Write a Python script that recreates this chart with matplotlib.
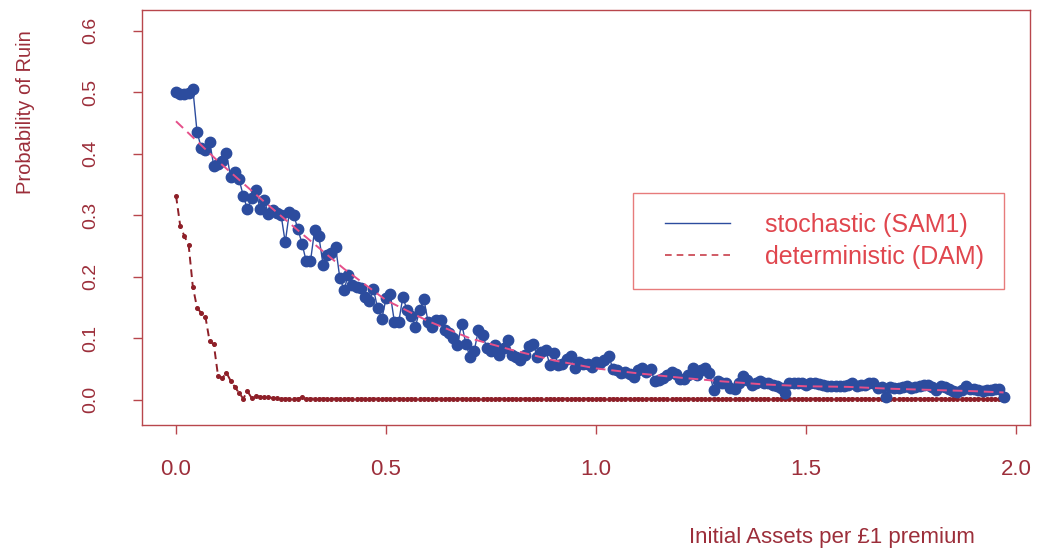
import numpy as np
import matplotlib
matplotlib.use("Agg")
import matplotlib.pyplot as plt
from matplotlib.lines import Line2D
from matplotlib.legend_handler import HandlerLine2D

# ruin probability vs initial assets, grid step 0.01 from 0.00 to 1.97
ASSET_STEP = 0.01

sam1 = [
    0.501, 0.498, 0.497, 0.499, 0.506, 0.436, 0.410, 0.407, 0.420, 0.380,
    0.383, 0.388, 0.401, 0.362, 0.371, 0.359, 0.332, 0.310, 0.328, 0.341,
    0.310, 0.325, 0.302, 0.309, 0.304, 0.301, 0.256, 0.306, 0.301, 0.278,
    0.254, 0.225, 0.225, 0.276, 0.266, 0.220, 0.236, 0.238, 0.248, 0.198,
    0.179, 0.203, 0.187, 0.184, 0.182, 0.168, 0.160, 0.180, 0.149, 0.132,
    0.165, 0.172, 0.126, 0.126, 0.167, 0.146, 0.136, 0.119, 0.146, 0.164,
    0.127, 0.119, 0.130, 0.130, 0.114, 0.108, 0.100, 0.089, 0.124, 0.091,
    0.069, 0.080, 0.114, 0.106, 0.084, 0.079, 0.089, 0.073, 0.084, 0.098,
    0.073, 0.070, 0.065, 0.073, 0.087, 0.091, 0.070, 0.078, 0.081, 0.057,
    0.076, 0.057, 0.059, 0.066, 0.072, 0.052, 0.061, 0.059, 0.059, 0.053,
    0.062, 0.060, 0.065, 0.072, 0.050, 0.048, 0.044, 0.046, 0.042, 0.037,
    0.049, 0.052, 0.046, 0.050, 0.030, 0.033, 0.035, 0.040, 0.046, 0.042,
    0.034, 0.034, 0.041, 0.052, 0.041, 0.048, 0.052, 0.043, 0.016, 0.030,
    0.027, 0.027, 0.019, 0.017, 0.028, 0.039, 0.033, 0.024, 0.028, 0.031,
    0.027, 0.027, 0.024, 0.022, 0.019, 0.011, 0.028, 0.028, 0.027, 0.028,
    0.024, 0.027, 0.027, 0.026, 0.024, 0.023, 0.022, 0.022, 0.022, 0.023,
    0.024, 0.027, 0.023, 0.024, 0.024, 0.027, 0.028, 0.019, 0.021, 0.005,
    0.021, 0.019, 0.019, 0.021, 0.022, 0.019, 0.020, 0.023, 0.024, 0.024,
    0.021, 0.016, 0.023, 0.020, 0.017, 0.015, 0.013, 0.016, 0.022, 0.017,
    0.017, 0.016, 0.015, 0.016, 0.016, 0.017, 0.017, 0.005,
]

dam = [
    0.332, 0.283, 0.266, 0.252, 0.184, 0.150, 0.141, 0.135, 0.095, 0.090,
    0.039, 0.035, 0.044, 0.031, 0.021, 0.011, 0.002, 0.014, 0.003, 0.006,
    0.005, 0.004, 0.004, 0.003, 0.003, 0.002, 0.002, 0.002, 0.002, 0.002,
    0.004, 0.002, 0.002, 0.002, 0.002, 0.002, 0.002, 0.002, 0.002, 0.002,
    0.002, 0.002, 0.002, 0.002, 0.002, 0.002, 0.002, 0.002, 0.002, 0.002,
    0.002, 0.002, 0.002, 0.002, 0.002, 0.002, 0.002, 0.002, 0.002, 0.002,
    0.002, 0.002, 0.002, 0.002, 0.002, 0.002, 0.002, 0.002, 0.002, 0.002,
    0.002, 0.002, 0.002, 0.002, 0.002, 0.002, 0.002, 0.002, 0.002, 0.002,
    0.002, 0.002, 0.002, 0.002, 0.002, 0.002, 0.002, 0.002, 0.002, 0.002,
    0.002, 0.002, 0.002, 0.002, 0.002, 0.002, 0.002, 0.002, 0.002, 0.002,
    0.002, 0.002, 0.002, 0.002, 0.002, 0.002, 0.002, 0.002, 0.002, 0.002,
    0.002, 0.002, 0.002, 0.002, 0.002, 0.002, 0.002, 0.002, 0.002, 0.002,
    0.002, 0.002, 0.002, 0.002, 0.002, 0.002, 0.002, 0.002, 0.002, 0.002,
    0.002, 0.002, 0.002, 0.002, 0.002, 0.002, 0.002, 0.002, 0.002, 0.002,
    0.002, 0.002, 0.002, 0.002, 0.002, 0.002, 0.002, 0.002, 0.002, 0.002,
    0.002, 0.002, 0.002, 0.002, 0.002, 0.002, 0.002, 0.002, 0.002, 0.002,
    0.002, 0.002, 0.002, 0.002, 0.002, 0.002, 0.002, 0.002, 0.002, 0.002,
    0.002, 0.002, 0.002, 0.002, 0.002, 0.002, 0.002, 0.002, 0.002, 0.002,
    0.002, 0.002, 0.002, 0.002, 0.002, 0.002, 0.002, 0.002, 0.002, 0.002,
    0.002, 0.002, 0.002, 0.002, 0.002, 0.002, 0.002, 0.002,
]

# smoothed SAM1 curve
fit_x = [0.0, 0.1, 0.2, 0.3, 0.4, 0.5, 0.6, 0.7, 0.8, 0.9, 1.0,
         1.1, 1.2, 1.3, 1.4, 1.5, 1.6, 1.7, 1.8, 1.9, 1.97]
fit_y = [0.453, 0.388, 0.328, 0.270, 0.213, 0.162, 0.128, 0.100, 0.081, 0.064, 0.051,
         0.043, 0.036, 0.030, 0.025, 0.022, 0.021, 0.018, 0.016, 0.014, 0.012]

x_ticks = [0.0, 0.5, 1.0, 1.5, 2.0]
y_ticks = [0.0, 0.1, 0.2, 0.3, 0.4, 0.5, 0.6]

BLUE = "#2c4c9e"
PINK = "#e5508a"
DARK = "#8e1f28"
FRAME = "#b8464c"
TXT = "#9c2e3a"
LEG_EDGE = "#e25a5a"
LEG_TXT = "#e0464e"

plt.rcParams["font.family"] = ["Liberation Sans", "DejaVu Sans"]

W, H = 1046, 556
fig = plt.figure(figsize=(W / 100, H / 100), dpi=100)
ax = fig.add_axes([142 / W, 1 - 425 / H, 888 / W, 415 / H])

x = np.arange(len(sam1)) * ASSET_STEP
ax.plot(x, dam, color=DARK, lw=1.4, dashes=(4, 2.5), marker="o", ms=2.6,
        mfc=DARK, mec=DARK, zorder=2)
ax.plot(x, sam1, color=BLUE, lw=1.0, marker="o", ms=7.5, mfc=BLUE, mec=BLUE, zorder=3)
ax.plot(fit_x, fit_y, color=PINK, lw=1.4, dashes=(5, 3), zorder=4)

ax.set_xlim(-0.081, 2.033)
ax.set_ylim(-0.041, 0.634)
ax.set_xticks(x_ticks)
ax.set_xticklabels([f"{v:.1f}" for v in x_ticks], fontsize=16)
ax.set_yticks(y_ticks)
ax.set_yticklabels([f"{v:.1f}" for v in y_ticks], fontsize=14,
                   rotation=90, va="center", ha="right")
ax.tick_params(axis="both", direction="out", length=6.5, width=1.0,
               color=FRAME, labelcolor=TXT)
ax.tick_params(axis="x", pad=18)
ax.tick_params(axis="y", pad=24)
for sp in ax.spines.values():
    sp.set_color(FRAME)
    sp.set_linewidth(1.0)

ax.set_xlabel("Initial Assets per £1 premium", fontsize=16,
              color=TXT, ha="right", va="center")
ax.xaxis.set_label_coords((975 - 142) / 888, (425 - 537) / 415)
ax.set_ylabel("Probability of Ruin", fontsize=14.5, color=TXT, ha="center", va="center")
ax.yaxis.set_label_coords((25 - 142) / 888, (425 - 112) / 415)

handles = [Line2D([], [], color=BLUE, lw=1.0),
           Line2D([], [], color="#c8404c", lw=1.2, dashes=(4, 3))]
inset = HandlerLine2D(numpoints=2, marker_pad=0.48)
leg = ax.legend(handles, ["stochastic (SAM1)", "deterministic (DAM)"],
                handler_map={h: inset for h in handles},
                loc="upper left", bbox_to_anchor=((633 - 142) / 888, (425 - 193) / 415),
                borderaxespad=0, fontsize=18, handlelength=3.56, handletextpad=0.92,
                borderpad=0.8, labelspacing=0.32, frameon=True, fancybox=False)
leg.get_frame().set_edgecolor(LEG_EDGE)
leg.get_frame().set_linewidth(1.0)
for t in leg.get_texts():
    t.set_color(LEG_TXT)

fig.savefig("out.png", dpi=100, facecolor="white")
